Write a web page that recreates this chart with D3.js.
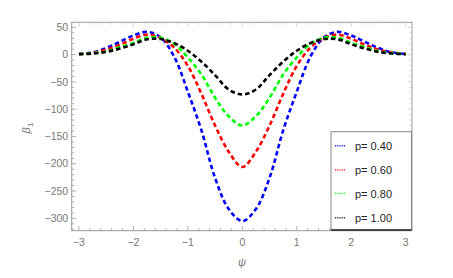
<!DOCTYPE html>
<html><head><meta charset="utf-8">
<script src="https://cdn.jsdelivr.net/npm/d3@7"></script>
<style>body{margin:0;background:#fff}svg{display:block}</style>
</head><body>
<script>
const psi = [-3,-2.75,-2.5,-2.25,-2,-1.75,-1.5,-1.25,-1,-0.75,-0.5,-0.25,0,0.25,0.5,0.75,1,1.25,1.5,1.75,2,2.25,2.5,2.75,3];
const p040 = [1,4,12,23.5,35,41.6,31.5,-4,-68,-139,-226,-283,-305,-283,-226,-139,-68,-4,31.5,41.6,35,23.5,12,4,1];
const p060 = [1,3.5,9,18,29,36.6,30.6,12.7,-20.7,-72,-130,-178,-206,-178,-130,-72,-20.7,12.7,30.6,36.6,29,18,9,3.5,1];
const p080 = [1,2.5,6,13.5,21.5,31,31,19.6,-5,-36.6,-79,-113,-130,-113,-79,-36.6,-5,19.6,31,31,21.5,13.5,6,2.5,1];
const p100 = [0.8,2,5,11,19,28,28.5,21,7,-13,-37.6,-64,-73,-64,-37.6,-13,7,21,28.5,28,19,11,5,2,0.8];
const seriesNames = ["p= 0.40","p= 0.60","p= 0.80","p= 1.00"];
const seriesColors = ["#0000ff","#ff0000","#00ff00","#000000"];
const seriesValues = [p040,p060,p080,p100];
const xTicks = [-3,-2,-1,0,1,2,3];
const yTicks = [50,0,-50,-100,-150,-200,-250,-300];

const W=453,H=278;
const svg=d3.select("body").append("svg").attr("width",W).attr("height",H);
const L=71.7,R=412,T=22.3,B=230.7;
const x=d3.scaleLinear().domain([-3.133,3.116]).range([L,R]);
const y=d3.scaleLinear().domain([-322.7,59.2]).range([B,T]);
const frameColor="#9a9a9a", textColor="#777";
const font="'Liberation Sans', Arial, sans-serif";

// frame
svg.append("rect").attr("x",L).attr("y",T).attr("width",R-L).attr("height",B-T)
  .attr("fill","none").attr("stroke",frameColor).attr("stroke-width",1);

// ticks (inward) on all sides
const xMinor=d3.range(-3.0,3.01,0.2).map(v=>+v.toFixed(2));
const yMinor=d3.range(-320,51,10);
const tg=svg.append("g").attr("stroke",frameColor).attr("stroke-width",0.8);
xMinor.forEach(v=>{
  const major=xTicks.some(t=>Math.abs(t-v)<1e-6);
  const len=major?4.5:2.5;
  tg.append("line").attr("x1",x(v)).attr("x2",x(v)).attr("y1",B).attr("y2",B-len);
  tg.append("line").attr("x1",x(v)).attr("x2",x(v)).attr("y1",T).attr("y2",T+len).attr("stroke","#c8c8c8");
});
yMinor.forEach(v=>{
  const major=yTicks.includes(v);
  const len=major?4.5:2.5;
  tg.append("line").attr("x1",L).attr("x2",L+len).attr("y1",y(v)).attr("y2",y(v));
  tg.append("line").attr("x1",R).attr("x2",R-len).attr("y1",y(v)).attr("y2",y(v)).attr("stroke","#c8c8c8");
});
const fmt=v=>v<0?"\u2212"+Math.abs(v):String(v);
svg.append("g").selectAll("text").data(xTicks).join("text")
  .attr("x",d=>x(d)).attr("y",B+15.5).attr("text-anchor","middle")
  .attr("font-family",font).attr("font-size",10.5).attr("fill",textColor).text(fmt);
svg.append("g").selectAll("text").data(yTicks).join("text")
  .attr("x",L-3.5).attr("y",d=>y(d)+3.7).attr("text-anchor","end")
  .attr("font-family",font).attr("font-size",10.5).attr("fill",textColor).text(fmt);

// axis labels
svg.append("text").attr("x",242).attr("y",266).attr("text-anchor","middle")
  .attr("font-family",font).attr("font-style","italic").attr("font-size",11).attr("fill",textColor).text("\u03c8");
const yl=svg.append("text").attr("transform","translate(30,128) rotate(-90)").attr("text-anchor","middle")
  .attr("font-family",font).attr("font-size",11).attr("fill",textColor);
yl.append("tspan").attr("font-style","italic").text("\u03b2");
yl.append("tspan").attr("font-size",8).attr("dy",2.5).text("1");

// curves
const line=d3.line().x((d,i)=>x(psi[i])).y(d=>y(d)).curve(d3.curveCatmullRom.alpha(0.5));
const cg=svg.append("g");
seriesValues.forEach((vals,k)=>{
  cg.append("path").attr("d",line(vals)).attr("fill","none")
    .attr("stroke",seriesColors[k]).attr("stroke-width",2.6)
    .attr("stroke-dasharray","4.5,3");
});

// legend
const lg=svg.append("g");
lg.append("rect").attr("x",331).attr("y",131.7).attr("width",80.5).attr("height",98.5)
  .attr("fill","#fff").attr("stroke","#888").attr("stroke-width",1);
lg.append("line").attr("x1",331).attr("x2",411.5).attr("y1",230).attr("y2",230).attr("stroke","#222").attr("stroke-width",1.6);
const ly=[145.7,170,193.5,217.7];
seriesNames.forEach((n,k)=>{
  lg.append("line").attr("x1",335).attr("x2",345).attr("y1",ly[k]).attr("y2",ly[k])
    .attr("stroke",seriesColors[k]).attr("stroke-width",1.6).attr("stroke-dasharray","1,0.8").attr("opacity",0.8);
  lg.append("text").attr("x",355).attr("y",ly[k]+4).attr("font-family",font).attr("font-size",11)
    .attr("fill","#222").text(n);
});
</script>
</body></html>
